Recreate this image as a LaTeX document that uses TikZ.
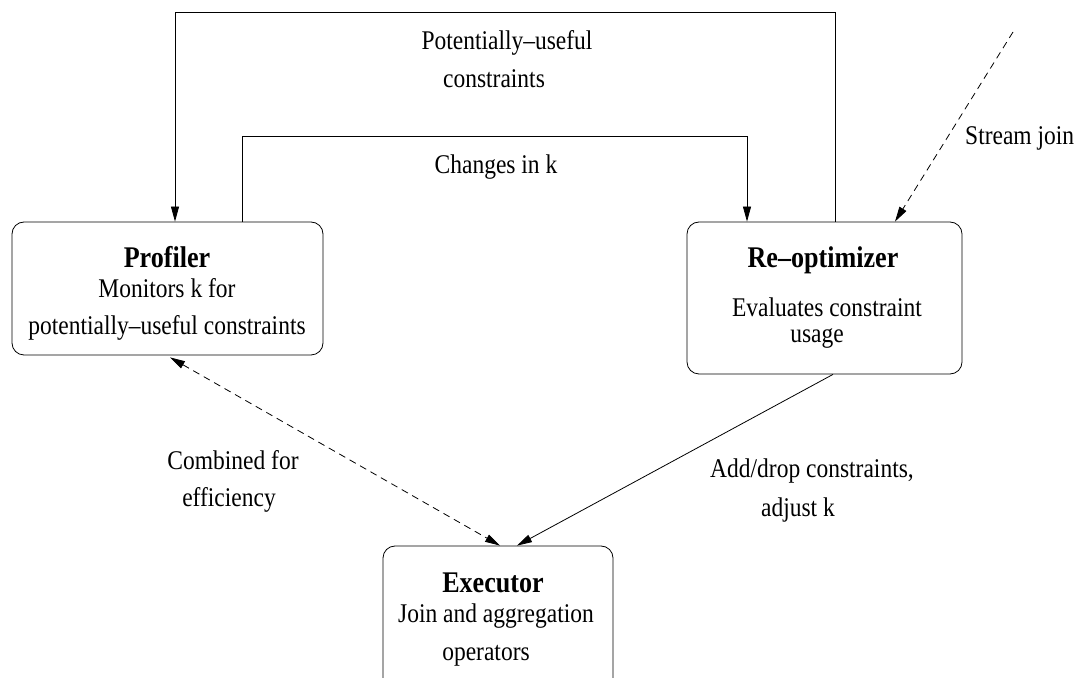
\documentclass[tikz,border=0pt]{standalone}
\usepackage{fontspec}
\setmainfont{Liberation Serif}[FakeStretch=0.87]
\usetikzlibrary{arrows.meta}
\begin{document}
\begin{tikzpicture}[x=1pt,y=1pt,
  >={Triangle[length=15pt,width=8pt]},
  box/.style={draw, line width=0.8pt, rounded corners=12pt, inner sep=0pt},
  txt/.style={inner sep=0pt, anchor=base, font=\fontsize{27}{32}\selectfont},
  ttl/.style={inner sep=0pt, anchor=base, font=\fontsize{30}{34}\selectfont\bfseries},
  link/.style={line width=0.8pt, ->},
  dlink/.style={line width=0.8pt, dash pattern=on 7pt off 5pt}]
\fill[white] (0,0) rectangle (1086,677);
\useasboundingbox (0,0) rectangle (1086,677);

% boxes
\node[box, minimum width=311pt, minimum height=133pt] (prof) at (167.5,388.5) {};
\node[box, minimum width=275pt, minimum height=152pt] (reo) at (824.5,379) {};
\node[box, minimum width=230pt, minimum height=144pt] (exec) at (498,59) {};

% box texts
\node[ttl] (profT) at (167,409) {Profiler};
\node[txt] (profA) at (167,379) {Monitors k for};
\node[txt] (profB) at (167,342) {potentially–useful constraints};
\node[ttl] (reoT) at (823,409) {Re–optimizer};
\node[txt] (reoA) at (827,360) {Evaluates constraint};
\node[txt] (reoB) at (817,334) {usage};
\node[ttl] (exT) at (493,84) {Executor};
\node[txt] (exA) at (496,55) {Join and aggregation};
\node[txt] (exB) at (486,17) {operators};

% labels
\node[txt] (l1a) at (507,627) {Potentially–useful};
\node[txt] (l1b) at (494,589) {constraints};
\node[txt] (l2) at (496,503) {Changes in k};
\node[txt, anchor=base west] (l3) at (965,532) {Stream join};
\node[txt] (l4a) at (233,207) {Combined for};
\node[txt] (l4b) at (229,170) {efficiency};
\node[txt] (l5a) at (812,199) {Add/drop constraints,};
\node[txt] (l5b) at (798,160) {adjust k};

% connectors
\coordinate (oR) at (835,665);
\coordinate (oL) at (175,665);
\draw[link] (reo.north -| oR) -- (oR) -- (oL) -- (prof.north -| oL);

\coordinate (iL) at (242,541);
\coordinate (iR) at (747,541);
\draw[link] (prof.north -| iL) -- (iL) -- (iR) -- (reo.north -| iR);

\coordinate (sj) at (1013,645);
\coordinate (sjx) at (895,0);
\draw[dlink, ->] (sj) -- (reo.north -| sjx);

\coordinate (dA) at (170,0);
\coordinate (dB) at (500,0);
\draw[dlink, <->] ([yshift=-2pt]prof.south -| dA) -- (exec.north -| dB);

\coordinate (sA) at (833,0);
\coordinate (sB) at (517,0);
\draw[link] (reo.south -| sA) -- (exec.north -| sB);
\end{tikzpicture}
\end{document}
